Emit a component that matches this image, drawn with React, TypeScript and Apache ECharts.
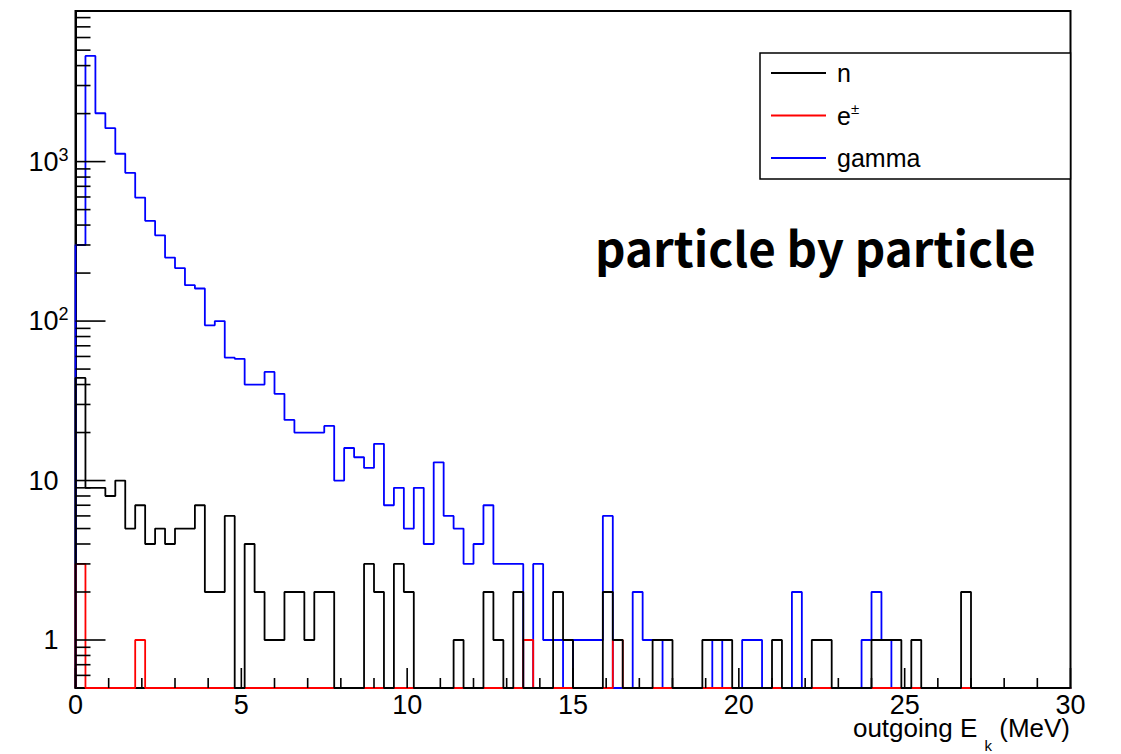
import React, { useEffect, useRef } from "react";
import * as echarts from "echarts";

// ---- data (100 bins of 0.3 MeV between 0 and 30 MeV) ----
const X_MIN = 0;
const X_MAX = 30;
const BIN_WIDTH = 0.3;
const Y_MIN = 0.5;
const Y_MAX = 8800;

const neutronCounts = [
  44, 9, 9, 8, 10, 5, 7, 4, 5, 4,
  5, 5, 7, 2, 2, 6, 0, 4, 2, 1,
  1, 2, 2, 1, 2, 2, 0, 0, 0, 3,
  2, 0, 3, 2, 0, 0, 0, 0, 1, 0,
  0, 2, 1, 0, 2, 0, 0, 0, 2, 1,
  0, 0, 0, 2, 1, 0, 0, 0, 1, 1,
  0, 0, 0, 1, 1, 1, 0, 0, 0, 0,
  1, 0, 0, 0, 1, 1, 0, 0, 0, 0,
  1, 1, 1, 0, 1, 0, 0, 0, 0, 2,
  0, 0, 0, 0, 0, 0, 0, 0, 0, 0,
];

const electronCounts = [
  3, 0, 0, 0, 0, 0, 1, 0, 0, 0,
  0, 0, 0, 0, 0, 0, 0, 0, 0, 0,
  0, 0, 0, 0, 0, 0, 0, 0, 0, 0,
  0, 0, 0, 0, 0, 0, 0, 0, 0, 0,
  0, 0, 0, 0, 0, 1, 0, 0, 0, 0,
  0, 0, 0, 0, 1, 0, 0, 0, 0, 0,
  0, 0, 0, 0, 0, 0, 0, 0, 0, 0,
  0, 0, 0, 0, 0, 0, 0, 0, 0, 0,
  0, 0, 0, 0, 0, 0, 0, 0, 0, 0,
  0, 0, 0, 0, 0, 0, 0, 0, 0, 0,
];

const gammaCounts = [
  300, 4600, 2010, 1620, 1120, 850, 595, 425, 345, 250,
  215, 168, 160, 94, 100, 59, 58, 40, 40, 48,
  35, 24, 20, 20, 20, 22, 10, 16, 14, 12,
  17, 7, 9, 5, 9, 4, 13, 6, 5, 3,
  4, 7, 3, 3, 3, 0, 3, 1, 1, 0,
  1, 1, 1, 6, 0, 0, 2, 1, 1, 0,
  0, 0, 0, 0, 1, 0, 0, 1, 1, 0,
  0, 0, 2, 0, 0, 0, 0, 0, 0, 1,
  2, 1, 0, 0, 0, 0, 0, 0, 0, 0,
  0, 0, 0, 0, 0, 0, 0, 0, 0, 0,
];

const seriesNames = ["n", "e±", "gamma"];

const xMajorTicks = [0, 5, 10, 15, 20, 25, 30];
const xMinorTicks = [
  1, 2, 3, 4, 6, 7, 8, 9, 11, 12, 13, 14, 16, 17, 18, 19,
  21, 22, 23, 24, 26, 27, 28, 29,
];
const yMajorTicks = [1, 10, 100, 1000];
const yMinorTicks = [
  0.6, 0.7, 0.8, 0.9,
  2, 3, 4, 5, 6, 7, 8, 9,
  20, 30, 40, 50, 60, 70, 80, 90,
  200, 300, 400, 500, 600, 700, 800, 900,
  2000, 3000, 4000, 5000, 6000, 7000, 8000,
];

const annotationText = "particle by particle";
const xAxisTitle = "outgoing E {sub|k} (MeV)";

// ---- helpers ----
const FONT = '"Liberation Sans", Arial, Helvetica, sans-serif';

function histogramSteps(counts: number[]): number[][] {
  const pts: number[][] = [[X_MIN, Y_MIN]];
  counts.forEach((c, i) => {
    pts.push([X_MIN + i * BIN_WIDTH, Math.max(c, Y_MIN)]);
  });
  pts.push([X_MAX, Math.max(counts[counts.length - 1], Y_MIN)]);
  pts.push([X_MAX, Y_MIN]);
  return pts;
}

function tickData(): number[][] {
  const d: number[][] = [];
  xMajorTicks.forEach((v) => d.push([v, Y_MIN, 20, 0]));
  xMinorTicks.forEach((v) => d.push([v, Y_MIN, 10, 0]));
  yMajorTicks.forEach((v) => d.push([X_MIN, v, 30, 1]));
  yMinorTicks.forEach((v) => d.push([X_MIN, v, 15, 1]));
  return d;
}

export default function App() {
  const ref = useRef<HTMLDivElement>(null);

  useEffect(() => {
    document.body.style.margin = "0";
    if (!ref.current) return;
    const chart = echarts.init(ref.current, undefined, { renderer: "svg" });

    const histLine = (name: string, counts: number[], color: string, z: number) => ({
      name,
      type: "line",
      step: "end",
      data: histogramSteps(counts),
      showSymbol: false,
      symbol: "none",
      z,
      itemStyle: { color },
      lineStyle: { color, width: 1.8 },
      emphasis: { disabled: true },
    });

    chart.setOption({
      animation: false,
      backgroundColor: "#ffffff",
      grid: {
        left: 75.5,
        top: 11,
        width: 995,
        height: 677,
        show: true,
        borderColor: "#000",
        borderWidth: 2,
        containLabel: false,
        outerBoundsMode: "none",
      },
      xAxis: {
        type: "value",
        min: X_MIN,
        max: X_MAX,
        interval: 5,
        axisLine: { show: true, lineStyle: { color: "#000", width: 2 } },
        axisTick: { show: false },
        splitLine: { show: false },
        axisLabel: {
          color: "#000",
          fontFamily: FONT,
          fontSize: 27,
          lineHeight: 20,
          margin: 7,
        },
      },
      yAxis: {
        type: "log",
        logBase: 10,
        min: Y_MIN,
        max: Y_MAX,
        axisLine: { show: true, lineStyle: { color: "#000", width: 2 } },
        axisTick: { show: false },
        splitLine: { show: false },
        minorTick: { show: false },
        axisLabel: {
          color: "#000",
          fontFamily: FONT,
          fontSize: 27,
          margin: 7,
          formatter: (v: number) => {
            const l = Math.log10(v);
            const r = Math.round(l);
            if (Math.abs(l - r) > 1e-6) return "";
            if (r === 0) return "1{pad| }";
            if (r === 1) return "10{pad| }";
            return "10{sup|" + r + "}";
          },
          rich: {
            sup: { fontFamily: FONT, fontSize: 18, color: "#000", padding: [0, 0, 14, 0] },
            pad: { width: 10, fontSize: 18 },
          },
        },
      },
      legend: {
        data: seriesNames,
        orient: "vertical",
        left: 771,
        top: 58,
        padding: 0,
        itemGap: 12.5,
        itemWidth: 55,
        itemHeight: 2,
        icon: "rect",
        z: 10,
        selectedMode: false,
        formatter: (name: string) => (name === "e±" ? "e{sup|±}" : name),
        textStyle: {
          color: "#000",
          fontFamily: FONT,
          fontSize: 25,
          lineHeight: 30,
          padding: [0, 0, 0, 6],
          rich: {
            sup: { fontFamily: FONT, fontSize: 15, color: "#000", lineHeight: 15, padding: [0, 0, 15, 0] },
          },
        },
      },
      graphic: [
        {
          type: "rect",
          z: 5,
          shape: { x: 760, y: 53, width: 310.5, height: 126 },
          style: { fill: "#fff", stroke: "#000", lineWidth: 1.5 },
        },
        {
          type: "text",
          z: 6,
          x: 595,
          y: 246,
          style: {
            text: annotationText,
            fontFamily: '"Noto Sans CJK JP", "Noto Sans", sans-serif',
            fontWeight: "bold",
            fontSize: 47.5,
            fill: "#000",
            align: "left",
            verticalAlign: "middle",
          },
        },
        {
          type: "text",
          z: 6,
          x: 1070,
          y: 702,
          style: {
            text: xAxisTitle,
            fontFamily: FONT,
            fontSize: 26,
            fill: "#000",
            align: "right",
            verticalAlign: "top",
            rich: {
              sub: { fontFamily: FONT, fontSize: 15, fill: "#000", padding: [36, 0, 0, 0] },
            },
          },
        },
      ],
      series: [
        histLine(seriesNames[2], gammaCounts, "#0000ff", 2),
        histLine(seriesNames[1], electronCounts, "#ff0000", 3),
        histLine(seriesNames[0], neutronCounts, "#000000", 4),
        {
          name: "ticks",
          type: "custom",
          data: tickData(),
          encode: { x: 0, y: 1 },
          clip: false,
          silent: true,
          z: 6,
          renderItem: (params: any, api: any) => {
            const x = api.value(0);
            const y = api.value(1);
            const len = api.value(2);
            const dir = api.value(3);
            const p = api.coord([x, y]);
            const shape =
              dir === 0
                ? { x1: p[0], y1: p[1], x2: p[0], y2: p[1] - len }
                : { x1: p[0], y1: p[1], x2: p[0] + len, y2: p[1] };
            return { type: "line", shape, style: { stroke: "#000", lineWidth: 1.6 } };
          },
        },
      ],
    });

    return () => chart.dispose();
  }, []);

  return <div ref={ref} style={{ width: 1121, height: 754 }} />;
}
